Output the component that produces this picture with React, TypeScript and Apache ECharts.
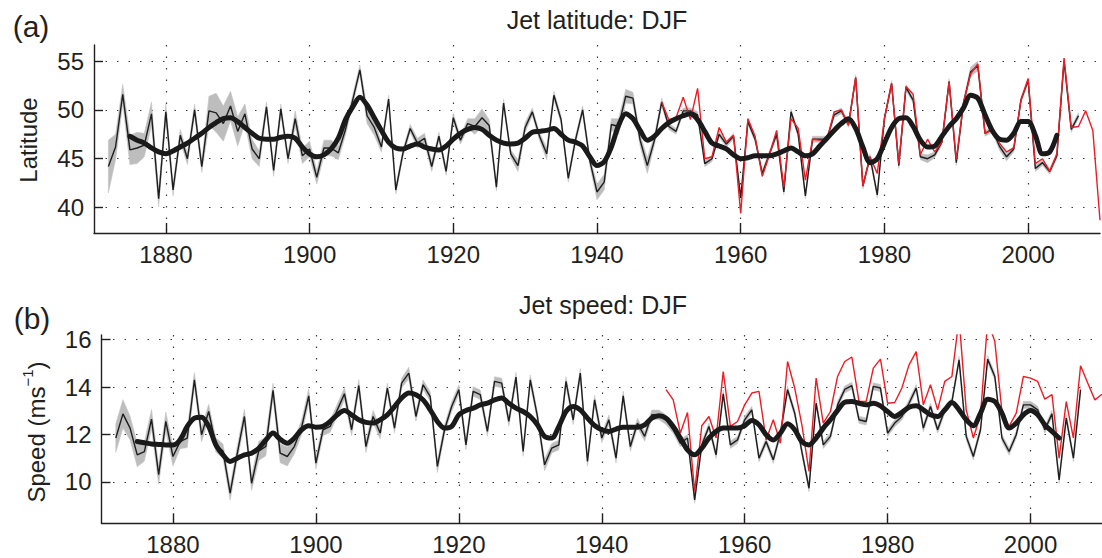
import React, { useEffect, useRef } from "react";
import * as echarts from "echarts";

// ---------------- data ----------------
const BLACK_START = 1872; // 20CR annual series (1872-2007)
const RED_START = 1949; // reanalysis annual series (1949-2010)
const SMOOTH_START = 1875; // low-pass filtered 20CR (1875-2004)

const xTicks = [1880, 1900, 1920, 1940, 1960, 1980, 2000];
const latTicks = [40, 45, 50, 55];
const spdTicks = [10, 12, 14, 16];

const latBlack = [
  44.2, 46.2, 51.6, 45.9, 46.1, 46.4, 49.6, 40.9, 49.8, 41.8,
  47.4, 45.0, 50.0, 44.2, 49.9, 49.7, 48.6, 50.4, 47.8, 49.6,
  46.0, 45.0, 50.3, 43.8, 50.1, 45.0, 49.1, 45.3, 46.0, 43.1,
  46.1, 46.1, 45.6, 48.0, 51.0, 54.1, 49.4, 48.2, 46.2, 51.1,
  41.8, 45.6, 48.1, 46.6, 47.1, 44.2, 47.3, 43.7, 49.2, 46.9,
  48.6, 48.3, 49.2, 48.4, 42.1, 50.7, 45.5, 44.3, 48.2, 49.8,
  47.3, 45.5, 51.5, 49.0, 43.0, 46.9, 50.0, 44.8, 41.6, 42.6,
  48.5, 48.3, 51.4, 51.2, 46.9, 44.3, 46.9, 50.8, 48.3, 47.8,
  49.9, 49.9, 49.5, 44.5, 45.0, 47.5, 46.5, 47.3, 41.0, 48.8,
  47.0, 43.5, 45.5, 47.5, 41.6, 49.8, 47.5, 41.2, 47.0, 47.0,
  47.0, 49.5, 49.9, 48.5, 53.3, 42.2, 45.2, 41.3, 49.1, 52.7,
  44.3, 52.3, 51.0, 45.2, 45.0, 45.4, 46.7, 52.9, 44.6, 50.7,
  53.9, 54.5, 47.6, 48.0, 46.3, 45.2, 46.0, 51.0, 53.0, 44.0,
  44.6, 43.7, 45.3, 55.0, 48.0, 49.4,
];

const latSpread = [
  2.7, 1.3, 1.0, 1.5, 1.6, 1.2, 1.2, 0.8, 0.8, 0.6,
  0.6, 0.6, 0.6, 0.6, 1.5, 2.0, 1.8, 1.5, 1.5, 1.0,
  1.0, 0.8, 0.5, 0.6, 0.5, 0.5, 0.8, 0.8, 0.8, 0.7,
  0.8, 0.8, 0.7, 0.6, 0.5, 0.5, 0.8, 0.8, 0.5, 0.4,
  0.4, 0.4, 0.4, 0.5, 0.5, 0.5, 0.4, 0.4, 0.4, 0.4,
  0.5, 0.8, 0.9, 0.6, 0.4, 0.4, 0.4, 0.6, 0.5, 0.4,
  0.4, 0.6, 0.4, 0.4, 0.4, 0.4, 0.4, 0.5, 0.8, 0.8,
  0.6, 0.8, 0.7, 0.6, 0.6, 0.8, 0.5, 0.4, 0.3, 0.3,
  0.3, 0.3, 0.3, 0.3, 0.3, 0.3, 0.3, 0.3, 0.3, 0.3,
  0.3, 0.3, 0.3, 0.3, 0.3, 0.3, 0.3, 0.3, 0.3, 0.3,
  0.3, 0.3, 0.3, 0.3, 0.3, 0.3, 0.3, 0.3, 0.3, 0.3,
  0.3, 0.3, 0.3, 0.3, 0.4, 0.3, 0.3, 0.3, 0.3, 0.3,
  0.5, 0.5, 0.3, 0.3, 0.4, 0.4, 0.3, 0.3, 0.3, 0.3,
  0.3, 0.3, 0.3, 0.3, 0.3, 0.3,
];

const latRed = [
  50.8, 49.0, 49.2, 51.3, 49.0, 52.2, 45.0, 45.2, 48.2, 46.7,
  47.4, 39.4, 49.1, 47.3, 43.2, 45.4, 47.9, 42.1, 49.1, 48.1,
  42.8, 47.0, 46.9, 46.9, 49.8, 50.0, 48.4, 53.3, 42.2, 45.2,
  43.5, 49.1, 52.7, 44.5, 52.4, 51.6, 45.4, 47.0, 45.7, 46.7,
  52.9, 44.9, 50.7, 53.7, 54.7, 47.6, 48.0, 46.6, 45.7, 46.1,
  51.0, 53.2, 44.5, 45.0, 43.7, 45.5, 55.3, 48.2, 48.3, 49.9,
  47.9, 38.7,
];

const latSmooth = [
  47.3, 46.9, 46.6, 46.1, 45.7, 45.5, 45.8, 46.2, 46.6, 47.1,
  47.6, 48.2, 48.7, 49.1, 49.2, 48.8, 48.2, 47.6, 47.1, 47.0,
  47.0, 47.2, 47.3, 47.1, 46.2, 45.5, 45.2, 45.4, 46.0, 47.1,
  49.0, 50.3, 51.3, 50.5, 49.2, 47.9, 46.7, 46.1, 46.0, 46.3,
  46.5, 46.2, 46.0, 45.9, 46.3, 47.0, 47.6, 48.0, 48.2, 48.0,
  47.4, 46.9, 46.6, 46.5, 46.6, 47.1, 47.7, 47.8, 47.9, 48.1,
  47.5, 46.9, 46.7, 46.3, 45.2, 44.3, 44.7, 46.2, 48.4, 49.6,
  49.1, 47.9, 46.9, 47.3, 48.1, 48.7, 49.1, 49.4, 49.6, 49.0,
  47.8, 46.6, 46.3, 46.0, 45.4, 45.0, 45.1, 45.3, 45.3, 45.3,
  45.5, 45.8, 46.1, 45.7, 45.3, 45.5, 46.3, 47.1, 47.9, 48.6,
  49.1, 48.1, 46.2, 44.6, 45.0, 46.6, 48.2, 49.1, 49.2, 48.3,
  46.9, 46.2, 46.3, 47.3, 48.3, 49.1, 50.2, 51.5, 51.2, 49.5,
  47.9, 47.0, 46.9, 47.6, 48.8, 48.8, 47.4, 45.5, 45.7, 47.4,
];

const spdBlack = [
  11.85, 12.87, 12.27, 11.14, 11.28, 12.65, 10.3, 12.55, 11.07, 11.7,
  11.85, 14.31, 11.99, 12.97, 11.56, 11.3, 9.52, 11.2, 12.76, 9.94,
  11.3, 11.5, 13.86, 11.21, 11.07, 11.5, 12.3, 13.63, 10.79, 12.2,
  12.34, 13.04, 13.72, 12.2, 14.06, 11.49, 12.76, 12.06, 13.96, 12.27,
  14.17, 14.59, 12.76, 14.1, 13.6, 10.65, 12.2, 13.18, 13.89, 11.56,
  13.82, 13.68, 12.13, 14.24, 14.17, 12.55, 14.42, 11.28, 14.31, 12.76,
  10.72, 11.42, 11.56, 14.24, 12.62, 14.59, 10.86, 13.46, 11.85, 12.62,
  11.0, 13.63, 11.49, 12.48, 11.92, 12.83, 12.83, 12.62, 12.2, 11.63,
  11.85, 9.24, 11.56, 12.34, 11.14, 13.72, 11.56, 11.77, 12.62, 13.04,
  11.0, 11.7, 10.93, 12.06, 13.89, 12.9, 11.28, 9.73, 13.32, 11.56,
  11.92, 13.25, 13.9, 14.06, 12.62, 12.55, 14.03, 13.96, 12.06, 12.48,
  12.76, 13.32, 13.96, 12.27, 13.18, 12.2, 13.04, 13.39, 15.15, 11.92,
  11.07, 12.2, 15.18, 14.45, 11.85, 11.28, 11.99, 13.25, 13.25, 13.04,
  12.2, 12.87, 10.08, 12.69, 11.0, 13.89,
];

const spdSpread = [
  0.6, 0.6, 0.5, 0.5, 0.4, 0.4, 0.4, 0.4, 0.4, 0.3,
  0.4, 0.3, 0.3, 0.3, 0.3, 0.3, 0.3, 0.3, 0.3, 0.3,
  0.4, 0.4, 0.3, 0.4, 0.4, 0.3, 0.3, 0.3, 0.25, 0.25,
  0.25, 0.25, 0.25, 0.25, 0.25, 0.25, 0.25, 0.25, 0.2, 0.2,
  0.2, 0.25, 0.2, 0.2, 0.2, 0.25, 0.2, 0.2, 0.2, 0.2,
  0.2, 0.2, 0.2, 0.2, 0.2, 0.2, 0.2, 0.2, 0.2, 0.2,
  0.25, 0.2, 0.2, 0.2, 0.2, 0.2, 0.2, 0.2, 0.2, 0.2,
  0.2, 0.2, 0.2, 0.2, 0.2, 0.2, 0.2, 0.2, 0.15, 0.15,
  0.15, 0.15, 0.15, 0.15, 0.15, 0.15, 0.15, 0.15, 0.15, 0.15,
  0.15, 0.15, 0.15, 0.15, 0.15, 0.15, 0.15, 0.15, 0.15, 0.15,
  0.15, 0.15, 0.15, 0.15, 0.15, 0.15, 0.15, 0.15, 0.15, 0.15,
  0.15, 0.15, 0.15, 0.15, 0.15, 0.15, 0.15, 0.15, 0.15, 0.15,
  0.15, 0.15, 0.15, 0.15, 0.15, 0.15, 0.15, 0.15, 0.15, 0.15,
  0.15, 0.15, 0.15, 0.15, 0.15, 0.15,
];

const spdRed = [
  13.89, 13.46, 12.06, 12.93, 9.59, 12.37, 12.76, 11.85, 14.66, 12.34,
  12.55, 13.25, 13.75, 13.82, 11.77, 12.62, 11.63, 15.08, 13.96, 12.41,
  10.44, 14.38, 12.48, 12.97, 14.45, 15.08, 15.27, 13.39, 13.39, 14.8,
  15.18, 13.32, 13.35, 13.96, 14.94, 15.5, 13.25, 14.1, 13.04, 14.24,
  14.45, 16.9, 13.04, 11.85, 12.83, 16.8, 15.93, 12.97, 12.34, 12.9,
  14.45, 14.38, 14.24, 13.49, 13.68, 11.0, 13.39, 11.85, 14.9, 14.17,
  13.46, 13.7,
];

const spdSmooth = [
  11.7, 11.65, 11.6, 11.58, 11.56, 11.56, 11.77, 12.34, 12.69, 12.73,
  12.34, 11.56, 11.14, 10.86, 11.0, 11.14, 11.21, 11.42, 11.77, 12.06,
  11.8, 11.63, 11.85, 12.2, 12.37, 12.31, 12.34, 12.55, 12.83, 13.01,
  12.83, 12.62, 12.51, 12.48, 12.62, 12.83, 13.18, 13.54, 13.75, 13.68,
  13.46, 13.04, 12.55, 12.27, 12.34, 12.83, 13.01, 13.11, 13.25, 13.32,
  13.46, 13.54, 13.32, 13.11, 12.97, 12.76, 12.41, 11.92, 11.85, 12.34,
  12.97, 13.18, 13.04, 12.69, 12.38, 12.2, 12.13, 12.23, 12.31, 12.31,
  12.31, 12.41, 12.69, 12.79, 12.69, 12.34, 11.85, 11.35, 11.14, 11.42,
  11.85, 12.13, 12.27, 12.27, 12.27, 12.37, 12.59, 12.41, 11.99, 11.77,
  12.06, 12.45, 12.2, 11.7, 11.56, 11.85, 12.27, 12.62, 13.02, 13.36,
  13.39, 13.32, 13.25, 13.32, 13.21, 12.97, 12.76, 12.93, 13.15, 13.21,
  13.04, 12.83, 12.76, 13.04, 13.35, 13.04, 12.62, 12.37, 12.9, 13.49,
  13.39, 12.9, 12.27, 12.48, 12.83, 13.01, 12.83, 12.41, 12.13, 11.85,
];

// ---------------- helpers ----------------
const FONT = "'Liberation Sans', Arial, Helvetica, sans-serif";
const INK = "#231f20";
const pairs = (start: number, vals: number[]) => vals.map((v, i) => [start + i, v]);

function panelSeries(
  idx: number,
  black: number[],
  spread: number[],
  red: number[],
  smooth: number[]
) {
  const common = {
    xAxisIndex: idx,
    yAxisIndex: idx,
    type: "line",
    symbol: "none",
    silent: true,
  };
  return [
    {
      type: "custom",
      name: "spread" + idx,
      xAxisIndex: idx,
      yAxisIndex: idx,
      silent: true,
      data: pairs(BLACK_START, black),
      encode: { x: 0, y: 1 },
      renderItem: (params: any, api: any) => {
        if (params.dataIndex !== 0) return null;
        const up = black.map((v, i) => api.coord([BLACK_START + i, v + spread[i]]));
        const dn = black
          .map((v, i) => api.coord([BLACK_START + i, v - spread[i]]))
          .reverse();
        return {
          type: "polygon",
          shape: { points: up.concat(dn) },
          style: { fill: "#bdbdbd", stroke: "#c4c4c4", lineWidth: 0.6 },
        };
      },
    },
    {
      ...common,
      name: "annual" + idx,
      data: pairs(BLACK_START, black),
      lineStyle: { color: "#1e1e1e", width: 1.4 },
    },
    {
      ...common,
      name: "reanalysis" + idx,
      data: pairs(RED_START, red),
      lineStyle: { color: "#ec1c24", width: 1.4 },
    },
    {
      ...common,
      name: "smooth" + idx,
      data: pairs(SMOOTH_START, smooth),
      smooth: 0.3,
      lineStyle: { color: "#1a1a1a", width: 5, cap: "round", join: "round" },
    },
  ];
}

const dotted = { type: [1.5, 10], color: "#3a3a3a", width: 1.2 };

function xAxis(gridIndex: number) {
  return {
    type: "value",
    gridIndex,
    min: 1870,
    max: 2010,
    axisLine: { show: true, onZero: false, lineStyle: { color: INK, width: 1.4 } },
    axisTick: {
      show: true,
      inside: true,
      length: 10,
      customValues: xTicks,
      lineStyle: { color: INK, width: 1.4 },
    },
    axisLabel: {
      customValues: xTicks,
      formatter: (v: number) => String(v),
      fontSize: 24,
      fontFamily: FONT,
      color: INK,
      margin: 9,
    },
    splitLine: { show: true, lineStyle: dotted },
  };
}

function yAxis(gridIndex: number, min: number, max: number, ticks: number[]) {
  return {
    type: "value",
    gridIndex,
    min,
    max,
    axisLine: { show: true, onZero: false, lineStyle: { color: INK, width: 1.4 } },
    axisTick: {
      show: true,
      inside: true,
      length: 9,
      customValues: ticks,
      lineStyle: { color: INK, width: 1.4 },
    },
    axisLabel: {
      customValues: ticks,
      formatter: (v: number) => String(v),
      fontSize: 24,
      fontFamily: FONT,
      color: INK,
      margin: 10,
    },
    splitLine: { show: true, lineStyle: dotted },
  };
}

function text(x: number, y: number, t: string, size: number, extra: any = {}) {
  return {
    type: "text",
    x,
    y,
    silent: true,
    style: {
      text: t,
      fontSize: size,
      fontFamily: FONT,
      fill: INK,
      textAlign: "center",
      textVerticalAlign: "middle",
      ...extra,
    },
  };
}

export default function App() {
  const ref = useRef<HTMLDivElement>(null);

  useEffect(() => {
    if (!ref.current) return;
    const chart = echarts.init(ref.current, undefined, { renderer: "svg" });
    chart.setOption({
      animation: false,
      backgroundColor: "#ffffff",
      grid: [
        { left: 94, top: 45, width: 1006, height: 188 },
        { left: 101.5, top: 335, width: 1005.5, height: 188.3 },
      ],
      xAxis: [xAxis(0), xAxis(1)],
      yAxis: [yAxis(0, 37.4, 56.64, latTicks), yAxis(1, 8.25, 16.2, spdTicks)],
      series: [
        ...panelSeries(0, latBlack, latSpread, latRed, latSmooth),
        ...panelSeries(1, spdBlack, spdSpread, spdRed, spdSmooth),
      ],
      graphic: [
        text(31, 26, "(a)", 30),
        text(597, 20, "Jet latitude: DJF", 25),
        { ...text(28, 140, "Latitude", 24), rotation: Math.PI / 2 },
        text(32, 318, "(b)", 30),
        text(603, 305, "Jet speed: DJF", 25),
        {
          type: "text",
          x: 34,
          y: 432,
          rotation: Math.PI / 2,
          silent: true,
          style: {
            text: "{a|Speed (ms}{s|−1}{a|)}",
            textAlign: "center",
            textVerticalAlign: "middle",
            fill: INK,
            rich: {
              a: { fontSize: 24, fontFamily: FONT, fill: INK, lineHeight: 28, verticalAlign: "bottom" },
              s: { fontSize: 15, fontFamily: FONT, fill: INK, lineHeight: 28, verticalAlign: "top", padding: [0, 0, 10, 0] },
            },
          },
        },
      ],
    });
    return () => chart.dispose();
  }, []);

  return (
    <div
      ref={ref}
      style={{ position: "fixed", left: 0, top: 0, width: 1102, height: 558 }}
    />
  );
}
